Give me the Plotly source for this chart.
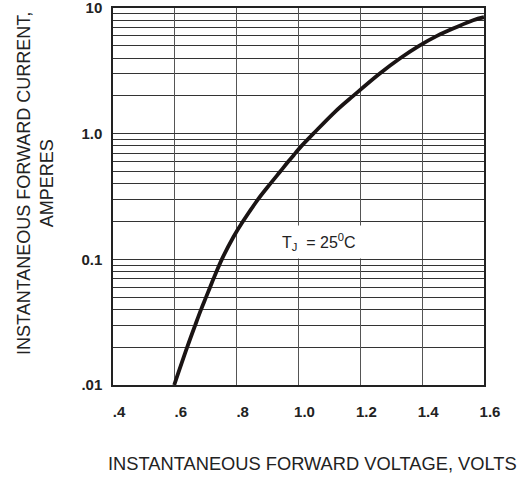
import math
import plotly.graph_objects as go

# Curve (forward voltage in volts, current in amperes)
voltage = [0.598, 0.640, 0.666, 0.685, 0.701, 0.714, 0.725, 0.752, 0.789, 0.820,
           0.869, 0.909, 0.941, 0.967, 0.990, 1.010, 1.048, 1.119, 1.177, 1.262,
           1.330, 1.390, 1.448, 1.508, 1.565, 1.6]
current = [0.01, 0.02, 0.03, 0.04, 0.05, 0.06, 0.07, 0.1, 0.15, 0.2,
           0.3, 0.4, 0.5, 0.6, 0.7, 0.8, 1.0, 1.5, 2, 3,
           4, 5, 6, 7, 8, 8.45]

x_ticks = [0.4, 0.6, 0.8, 1.0, 1.2, 1.4, 1.6]
x_labels = [".4", ".6", ".8", "1.0", "1.2", "1.4", "1.6"]
decade_vals = [0.01, 0.1, 1, 10]
decade_labels = [".01", "0.1", "1.0", "10"]

label_x = 1.065
label_y = 0.138

FONT = "Liberation Sans, Arial, sans-serif"

fig = go.Figure()
fig.add_trace(go.Scatter(
    x=voltage, y=current, mode="lines",
    line=dict(color="#1a1414", width=3.8, shape="spline", smoothing=1.0),
    hoverinfo="skip", showlegend=False,
))

L, R, T, B = 113, 44, 8, 98
W, H = 528, 483

fig.update_layout(
    width=W, height=H,
    margin=dict(l=L, r=R, t=T, b=B, autoexpand=False),
    paper_bgcolor="white", plot_bgcolor="white",
    font=dict(family=FONT, color="#222222"),
    xaxis=dict(
        range=[0.4, 1.6], tickvals=x_ticks, ticktext=x_labels,
        showgrid=True, gridcolor="#555555", gridwidth=1,
        ticks="", zeroline=False, automargin=False,
        showline=True, linecolor="#222222", linewidth=1.5, mirror=True,
        tickfont=dict(size=15, family=FONT, weight="bold"),
        ticklabelshift=6, ticklabelstandoff=12,
    ),
    yaxis=dict(
        type="log", range=[-2, 1], tickvals=decade_vals, ticktext=decade_labels,
        showgrid=True, gridcolor="#333333", gridwidth=1,
        minor=dict(dtick="D1", showgrid=True, gridcolor="#333333", gridwidth=1, ticks=""),
        ticks="", zeroline=False, automargin=False,
        showline=True, linecolor="#222222", linewidth=1.5, mirror=True,
        tickfont=dict(size=15, family=FONT, weight="bold"),
        ticklabelstandoff=6, ticklabeloverflow="allow",
    ),
)

pw = W - L - R
ph = H - T - B


def px_to_paper(px, py):
    return (px - L) / pw, (H - B - py) / ph


xt_x, xt_y = px_to_paper(312, 464)
yt_x, yt_y = px_to_paper(35, 184)

fig.update_layout(annotations=[
    dict(x=label_x, y=math.log10(label_y), xref="x", yref="y",
         text="T<sub>J</sub>  = 25<sup>0</sup>C", showarrow=False,
         xanchor="center", yanchor="middle",
         font=dict(size=16, color="#222222"), bgcolor="white", borderpad=5),
    dict(x=xt_x, y=xt_y, xref="paper", yref="paper",
         text="INSTANTANEOUS FORWARD VOLTAGE, VOLTS", showarrow=False,
         xanchor="center", yanchor="middle",
         font=dict(size=18.3, color="#222222")),
    dict(x=yt_x, y=yt_y, xref="paper", yref="paper",
         text="INSTANTANEOUS FORWARD CURRENT,<br>AMPERES", showarrow=False,
         xanchor="center", yanchor="middle",
         textangle=-90, font=dict(size=18, color="#222222")),
])

fig.write_html("out.html", config={"displayModeBar": False},
               post_script="document.body.style.margin='0';")
